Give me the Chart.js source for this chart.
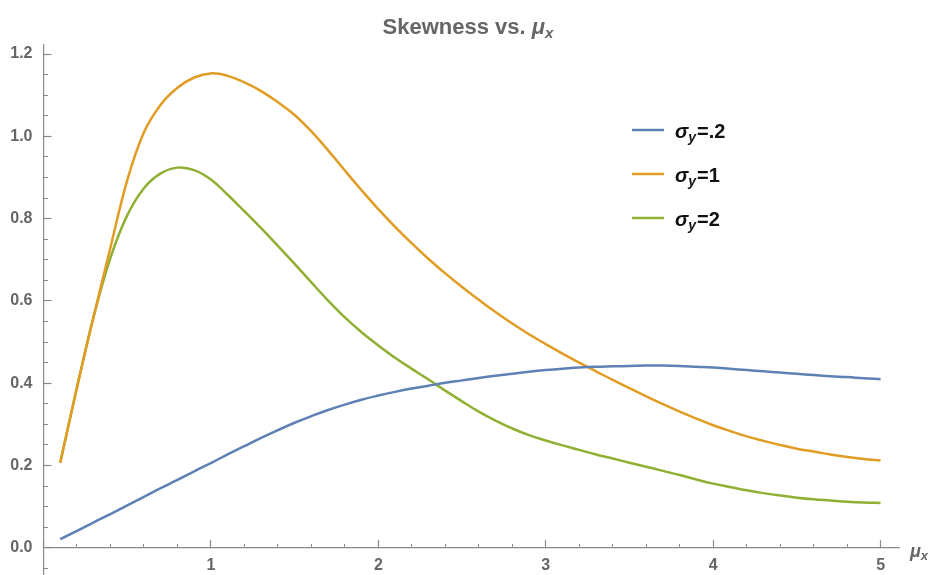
<!DOCTYPE html>
<html>
<head>
<meta charset="utf-8">
<script src="https://cdn.jsdelivr.net/npm/chart.js@4.4.1/dist/chart.umd.min.js"></script>
<style>
  html, body { margin: 0; padding: 0; background: #fff; }
  #wrap { width: 938px; height: 575px; }
</style>
</head>
<body>
<div id="wrap"><canvas id="skewChart" width="938" height="575"></canvas></div>
<script>
// mu_x sample positions, 0.1 apart
const muX = [0.1, 0.2, 0.3, 0.4, 0.5, 0.6, 0.7, 0.8, 0.9, 1.0,
  1.1, 1.2, 1.3, 1.4, 1.5, 1.6, 1.7, 1.8, 1.9, 2.0,
  2.1, 2.2, 2.3, 2.4, 2.5, 2.6, 2.7, 2.8, 2.9, 3.0,
  3.1, 3.2, 3.3, 3.4, 3.5, 3.6, 3.7, 3.8, 3.9, 4.0,
  4.1, 4.2, 4.3, 4.4, 4.5, 4.6, 4.7, 4.8, 4.9, 5.0];

// skewness for sigma_y = .2
const skewSigma02 = [0.021, 0.041, 0.062, 0.082, 0.103, 0.124, 0.145, 0.165, 0.186, 0.206,
  0.227, 0.247, 0.267, 0.286, 0.304, 0.320, 0.335, 0.348, 0.360, 0.370,
  0.379, 0.387, 0.394, 0.401, 0.407, 0.413, 0.418, 0.423, 0.428, 0.432,
  0.435, 0.438, 0.440, 0.441, 0.442, 0.443, 0.443, 0.442, 0.440, 0.438,
  0.435, 0.432, 0.429, 0.426, 0.423, 0.420, 0.417, 0.415, 0.412, 0.410];

// skewness for sigma_y = 1
const skewSigma1 = [0.207, 0.390, 0.563, 0.730, 0.893, 1.010, 1.077, 1.118, 1.143, 1.153,
  1.147, 1.131, 1.110, 1.083, 1.052, 1.012, 0.966, 0.917, 0.869, 0.823,
  0.780, 0.740, 0.702, 0.667, 0.634, 0.603, 0.573, 0.545, 0.519, 0.495,
  0.472, 0.450, 0.429, 0.408, 0.388, 0.368, 0.349, 0.331, 0.314, 0.298,
  0.284, 0.271, 0.260, 0.250, 0.241, 0.234, 0.227, 0.221, 0.216, 0.212];

// skewness for sigma_y = 2
const skewSigma2 = [0.207, 0.390, 0.563, 0.705, 0.808, 0.874, 0.910, 0.924, 0.918, 0.895,
  0.858, 0.818, 0.777, 0.734, 0.690, 0.645, 0.601, 0.560, 0.524, 0.492,
  0.462, 0.435, 0.409, 0.382, 0.356, 0.331, 0.309, 0.290, 0.274, 0.261,
  0.249, 0.238, 0.227, 0.217, 0.207, 0.197, 0.187, 0.177, 0.166, 0.156,
  0.148, 0.140, 0.133, 0.127, 0.122, 0.118, 0.115, 0.112, 0.110, 0.109];

const sigmaLabels = ['.2', '1', '2'];
const seriesColors = ['#5e81b5', '#e19c24', '#8fb032'];

const FONT = "'Liberation Sans', Arial, sans-serif";
const AXIS_GRAY = '#8a8a8a';
const TEXT_GRAY = '#666666';

function toPoints(ys) {
  return muX.map((x, i) => ({ x: x, y: ys[i] }));
}

// title, axis name and legend all need sub-scripts, so they are painted by hand
const annotations = {
  id: 'annotations',
  afterDraw(chart) {
    const ctx = chart.ctx;
    const xs = chart.scales.x;
    const ys = chart.scales.y;
    ctx.save();
    ctx.textBaseline = 'alphabetic';
    ctx.fillStyle = TEXT_GRAY;

    // title
    const t1 = 'Skewness vs. ';
    ctx.font = 'bold 22px ' + FONT;
    const w1 = ctx.measureText(t1).width;
    ctx.font = 'italic bold 22px ' + FONT;
    const w2 = ctx.measureText('\u03bc').width;
    ctx.font = 'italic bold 15px ' + FONT;
    const w3 = ctx.measureText('x').width;
    let tx = 468 - (w1 + w2 + w3) / 2;
    ctx.font = 'bold 22px ' + FONT;
    ctx.fillText(t1, tx, 34);
    tx += w1;
    ctx.font = 'italic bold 22px ' + FONT;
    ctx.fillText('\u03bc', tx, 34);
    tx += w2;
    ctx.font = 'italic bold 15px ' + FONT;
    ctx.fillText('x', tx, 38);

    // axis name at the end of the horizontal axis
    const y0 = ys.getPixelForValue(0);
    const ax = xs.right + 11;
    ctx.font = 'italic bold 18px ' + FONT;
    ctx.fillText('\u03bc', ax, y0 + 9);
    const mw = ctx.measureText('\u03bc').width;
    ctx.font = 'italic bold 13px ' + FONT;
    ctx.fillText('x', ax + mw, y0 + 12);

    // legend
    chart.data.datasets.forEach((ds, i) => {
      const ly = 130 + i * 44;
      ctx.strokeStyle = ds.borderColor;
      ctx.lineWidth = 2.5;
      ctx.beginPath();
      ctx.moveTo(632, ly);
      ctx.lineTo(664, ly);
      ctx.stroke();

      let lx = 675;
      const base = ly + 8;
      ctx.fillStyle = '#111';
      ctx.font = 'italic bold 20px ' + FONT;
      ctx.fillText('\u03c3', lx, base);
      lx += ctx.measureText('\u03c3').width;
      ctx.font = 'italic bold 14px ' + FONT;
      ctx.fillText('y', lx, base + 4);
      lx += ctx.measureText('y').width + 1;
      ctx.font = 'bold 20px ' + FONT;
      ctx.fillText('=' + sigmaLabels[i], lx, base);
    });
    ctx.restore();
  }
};

const ctx = document.getElementById('skewChart');

new Chart(ctx, {
  type: 'line',
  data: {
    datasets: [
      { label: 'sigma_y=.2', data: toPoints(skewSigma02), borderColor: seriesColors[0] },
      { label: 'sigma_y=1', data: toPoints(skewSigma1), borderColor: seriesColors[1] },
      { label: 'sigma_y=2', data: toPoints(skewSigma2), borderColor: seriesColors[2] }
    ].map(ds => Object.assign(ds, {
      borderWidth: 2.5,
      pointRadius: 0,
      fill: false,
      tension: 0.4
    }))
  },
  options: {
    responsive: false,
    animation: false,
    devicePixelRatio: 1,
    layout: { padding: { left: 0, right: 39, top: 45, bottom: 0 } },
    plugins: {
      legend: { display: false },
      title: { display: false },
      tooltip: { enabled: false }
    },
    scales: {
      x: {
        type: 'linear',
        position: { y: 0 },
        min: 0,
        max: 5.11,
        border: { display: true, color: AXIS_GRAY, width: 1.2 },
        grid: { drawOnChartArea: false, tickLength: -8, tickColor: AXIS_GRAY, tickWidth: 1.2 },
        ticks: {
          stepSize: 1,
          includeBounds: false,
          maxTicksLimit: 100,
          autoSkip: false,
          maxRotation: 0,
          padding: 16,
          color: TEXT_GRAY,
          font: { family: FONT, size: 16, weight: 'bold' },
          callback: v => (v === 0 ? '' : String(v))
        }
      },
      xMinor: {
        type: 'linear',
        axis: 'x',
        position: { y: 0 },
        min: 0,
        max: 5.11,
        border: { display: false },
        grid: { drawOnChartArea: false, tickLength: -4, tickColor: AXIS_GRAY, tickWidth: 1 },
        ticks: { stepSize: 0.2, includeBounds: false, maxTicksLimit: 100, autoSkip: false, display: false }
      },
      y: {
        type: 'linear',
        position: 'left',
        weight: 1,
        min: -0.066,
        max: 1.222,
        afterFit: scale => {
          // keep the axis flush with the canvas bottom
          scale.width = 43.5;
          scale.paddingTop = 0;
          scale.paddingBottom = 0;
        },
        border: { display: true, color: AXIS_GRAY, width: 1.2 },
        grid: { drawOnChartArea: false, tickLength: -8, tickColor: AXIS_GRAY, tickWidth: 1.2 },
        ticks: {
          stepSize: 0.2,
          includeBounds: false,
          maxTicksLimit: 100,
          autoSkip: false,
          padding: 19,
          color: TEXT_GRAY,
          font: { family: FONT, size: 16, weight: 'bold' },
          callback: v => v.toFixed(1)
        }
      },
      yMinor: {
        type: 'linear',
        axis: 'y',
        position: { x: 0 },
        min: -0.066,
        max: 1.222,
        border: { display: false },
        grid: { drawOnChartArea: false, tickLength: -4, tickColor: AXIS_GRAY, tickWidth: 1 },
        ticks: { stepSize: 0.05, includeBounds: false, maxTicksLimit: 100, autoSkip: false, display: false }
      }
    }
  },
  plugins: [annotations]
});
</script>
</body>
</html>
